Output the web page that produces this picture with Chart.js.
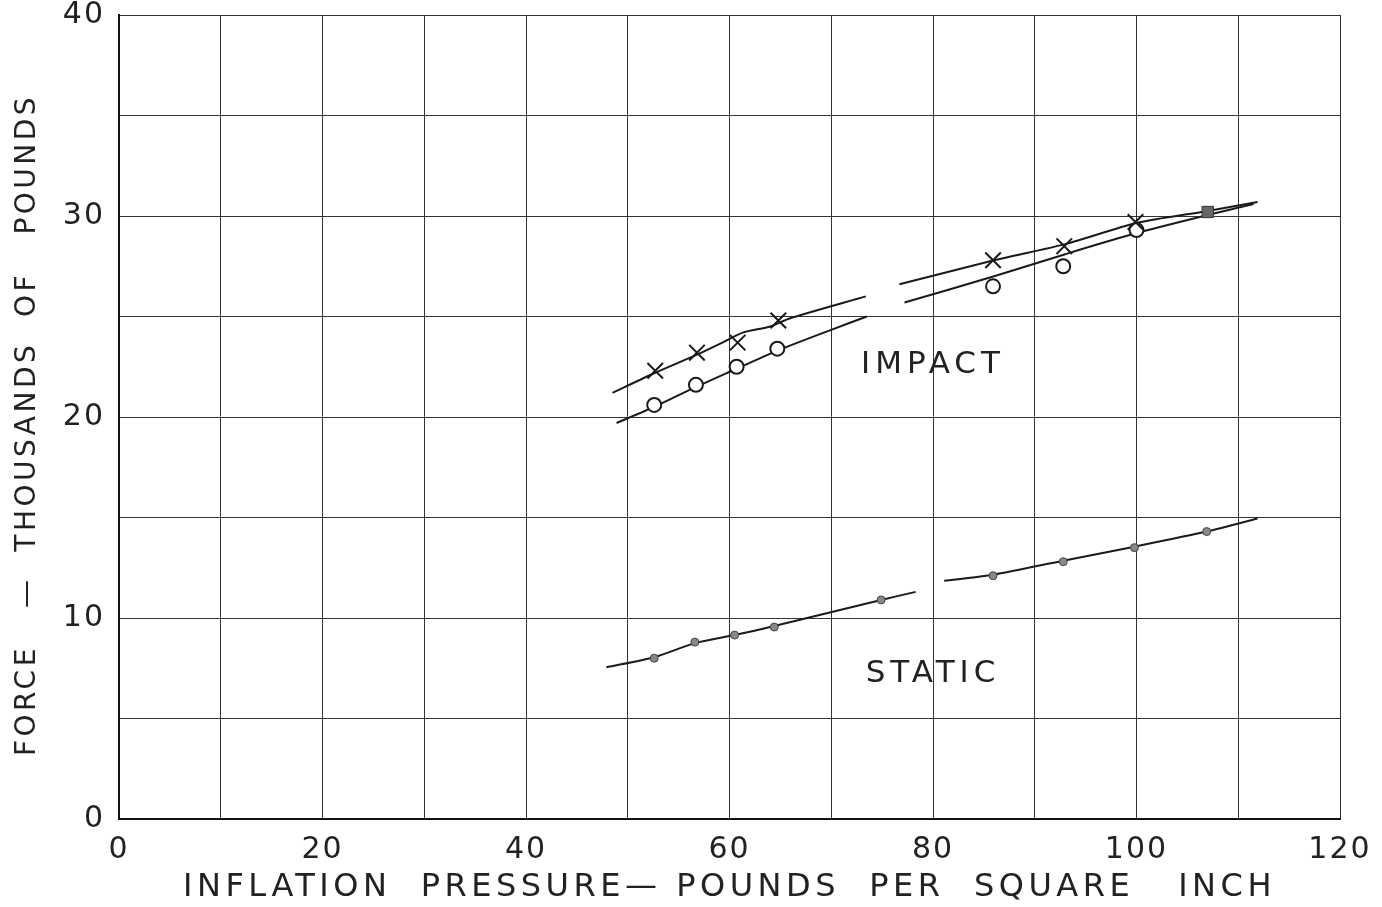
<!DOCTYPE html>
<html>
<head>
<meta charset="utf-8">
<title>Impact and static force vs inflation pressure</title>
<script src="https://cdn.jsdelivr.net/npm/chart.js@4"></script>
<style>
  html, body { margin: 0; padding: 0; background: #fff; }
  #wrap { width: 1382px; height: 907px; }
</style>
</head>
<body>
<div id="wrap"><canvas id="forceChart" width="1382" height="907"></canvas></div>
<script>
// Test points (x = inflation pressure psi, y = force in 1000 lb)
const impactXPressure = [52.7, 56.8, 60.8, 64.8, 85.9, 92.9, 99.9];
const impactXForce    = [22.3, 23.2, 23.7, 24.8, 27.8, 28.5, 29.7];

const impactOPressure = [52.6, 56.7, 60.7, 64.7, 85.9, 92.8, 100.0];
const impactOForce    = [20.6, 21.6, 22.5, 23.4, 26.5, 27.5, 29.3];

// coincident (shaded) point where both impact series meet
const sharedPressure = [107.0];
const sharedForce    = [30.2];

const staticPressure = [52.6, 56.6, 60.5, 64.4, 74.9, 85.9, 92.8, 99.8, 106.9];
const staticForce    = [8.0, 8.8, 9.15, 9.55, 10.9, 12.1, 12.8, 13.5, 14.3];

// faired curves, drawn in two pieces with a gap in the middle
const upperCurvePressureA = [48.5, 52.7, 56.8, 59.3, 61.3, 64.0, 65.9, 73.4];
const upperCurveForceA    = [21.2, 22.2, 23.1, 23.7, 24.2, 24.5, 24.9, 26.0];
const upperCurvePressureB = [76.7, 86.0, 93.0, 100.0, 107.0, 111.9];
const upperCurveForceB    = [26.6, 27.8, 28.6, 29.65, 30.25, 30.7];

const lowerCurvePressureA = [48.9, 52.6, 56.7, 60.7, 64.7, 69.8, 73.5];
const lowerCurveForceA    = [19.7, 20.5, 21.5, 22.4, 23.3, 24.3, 25.0];
const lowerCurvePressureB = [77.2, 86.0, 93.0, 100.0, 107.0, 111.5];
const lowerCurveForceB    = [25.7, 27.0, 28.1, 29.15, 30.05, 30.6];

const staticCurvePressureA = [47.9, 52.6, 56.6, 60.5, 64.4, 74.9, 78.3];
const staticCurveForceA    = [7.55, 8.05, 8.75, 9.15, 9.6, 10.9, 11.3];
const staticCurvePressureB = [81.1, 85.9, 92.8, 99.8, 106.9, 111.9];
const staticCurveForceB    = [11.85, 12.15, 12.85, 13.55, 14.3, 14.95];

const xTickLabels = [0, 20, 40, 60, 80, 100, 120];
const yTickLabels = [0, 10, 20, 30, 40];

const xTitle = 'INFLATION  PRESSURE\u2014 POUNDS  PER  SQUARE   INCH';
const yTitle = 'FORCE   \u2014  THOUSANDS  OF   POUNDS';

const curveLabels = [
  { text: 'IMPACT', x: 80, y: 22.6 },
  { text: 'STATIC', x: 80, y: 7.2 }
];

function pairs(xs, ys) {
  return xs.map(function(x, i) { return { x: x, y: ys[i] }; });
}

const ink = '#1a1a1a';
const FONT = '"DejaVu Sans", sans-serif';

function curve(xs, ys) {
  return {
    data: pairs(xs, ys),
    showLine: true,
    borderColor: ink,
    borderWidth: 2,
    pointRadius: 0,
    tension: 0.25,
    order: 2
  };
}

// a little spacing on tick digits
const spacing = {
  id: 'spacing',
  beforeDraw(chart) { chart.ctx.save(); chart.ctx.letterSpacing = '2px'; },
  afterDraw(chart) { chart.ctx.restore(); }
};

// curve labels and the widely spaced axis titles
const lettering = {
  id: 'lettering',
  afterDraw(chart) {
    const ctx = chart.ctx;
    const xs = chart.scales.x, ys = chart.scales.y;
    const area = chart.chartArea;
    ctx.save();
    ctx.fillStyle = '#222';
    ctx.textAlign = 'center';
    ctx.textBaseline = 'middle';

    ctx.font = '31px ' + FONT;
    ctx.letterSpacing = '5px';
    curveLabels.forEach(function(l) {
      ctx.fillText(l.text, xs.getPixelForValue(l.x), ys.getPixelForValue(l.y));
    });

    ctx.font = '32px ' + FONT;
    ctx.letterSpacing = '4.5px';
    ctx.fillText(xTitle, (area.left + area.right) / 2, 888);

    ctx.font = '28px ' + FONT;
    ctx.letterSpacing = '3.5px';
    ctx.translate(28, 425);
    ctx.rotate(-Math.PI / 2);
    ctx.fillText(yTitle, 0, 0);
    ctx.restore();
  }
};

const ctx = document.getElementById('forceChart').getContext('2d');
const forceChart = new Chart(ctx, {
  type: 'scatter',
  data: {
    datasets: [
      curve(upperCurvePressureA, upperCurveForceA),
      curve(upperCurvePressureB, upperCurveForceB),
      curve(lowerCurvePressureA, lowerCurveForceA),
      curve(lowerCurvePressureB, lowerCurveForceB),
      curve(staticCurvePressureA, staticCurveForceA),
      curve(staticCurvePressureB, staticCurveForceB),
      {
        data: pairs(impactXPressure, impactXForce),
        pointStyle: 'crossRot',
        pointRadius: 11,
        borderColor: ink,
        borderWidth: 2,
        order: 1
      },
      {
        data: pairs(impactOPressure, impactOForce),
        pointStyle: 'circle',
        pointRadius: 7,
        backgroundColor: '#fff',
        borderColor: ink,
        borderWidth: 2,
        order: 1
      },
      {
        data: pairs(sharedPressure, sharedForce),
        pointStyle: 'rect',
        pointRadius: 8,
        backgroundColor: '#666',
        borderColor: '#333',
        borderWidth: 1,
        order: 1
      },
      {
        data: pairs(staticPressure, staticForce),
        pointStyle: 'circle',
        pointRadius: 4,
        backgroundColor: '#888',
        borderColor: '#444',
        borderWidth: 1,
        order: 1
      }
    ]
  },
  options: {
    responsive: false,
    animation: false,
    layout: { padding: { left: 0, right: 42, top: 15, bottom: 0 } },
    plugins: {
      legend: { display: false },
      tooltip: { enabled: false }
    },
    scales: {
      x: {
        type: 'linear',
        min: 0,
        max: 120,
        afterFit: function(scale) { scale.height = 88; },
        ticks: {
          stepSize: 10,
          padding: 13,
          color: '#222',
          font: { family: FONT, size: 30 },
          maxRotation: 0,
          autoSkip: false,
          callback: function(v) { return xTickLabels.includes(v) ? String(v) : ''; }
        },
        grid: { color: '#333', lineWidth: 1, drawTicks: false },
        border: { color: '#111', width: 2 },
        title: { display: false }
      },
      y: {
        type: 'linear',
        min: 0,
        max: 40,
        afterFit: function(scale) {
          scale.width = 119;
          scale.paddingTop = 0;
          scale.paddingBottom = 0;
        },
        ticks: {
          stepSize: 5,
          padding: 14,
          color: '#222',
          font: { family: FONT, size: 30 },
          autoSkip: false,
          callback: function(v) { return yTickLabels.includes(v) ? String(v) : ''; }
        },
        grid: { color: '#333', lineWidth: 1, drawTicks: false },
        border: { color: '#111', width: 2 },
        title: { display: false }
      }
    }
  },
  plugins: [spacing, lettering]
});
</script>
</body>
</html>
